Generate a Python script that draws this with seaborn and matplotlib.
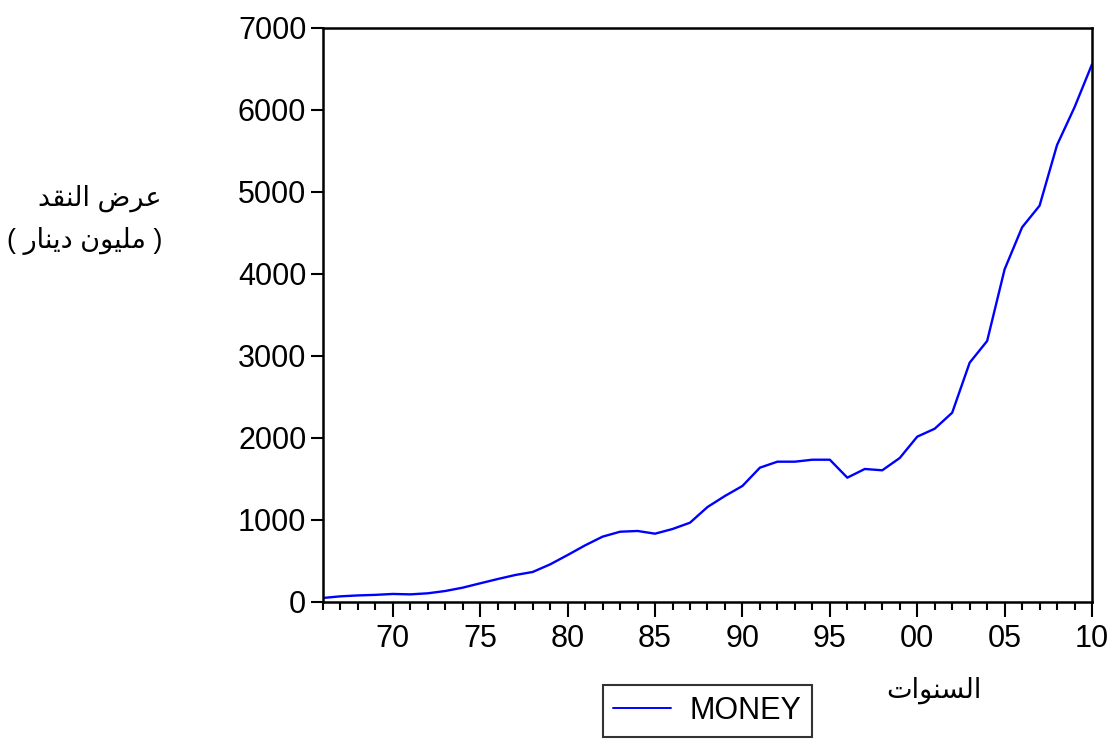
import matplotlib
matplotlib.use("Agg")
import matplotlib.pyplot as plt
from matplotlib.ticker import MultipleLocator, FuncFormatter
from matplotlib.lines import Line2D
import seaborn as sns
import pandas as pd

# Annual money supply (million dinars)
years = list(range(1966, 2011))
money = [49, 69, 80, 87, 98, 93, 106, 134, 175, 228,
         280, 329, 366, 459, 573, 691, 797, 857, 866, 833,
         890, 967, 1158, 1293, 1415, 1638, 1711, 1711, 1735, 1735,
         1516, 1622, 1606, 1756, 2016, 2113, 2308, 2918, 3183, 4057,
         4569, 4833, 5573, 6033, 6557]
y_ticks = [0, 1000, 2000, 3000, 4000, 5000, 6000, 7000]
series_name = "MONEY"
y_title_1 = "عرض النقد"
y_title_2 = "مليون دينار"
x_title = "السنوات"

# --- minimal Arabic shaping (presentation forms) + visual ordering ---
DUAL = {
    "ت": (0xFE95, 0xFE96, 0xFE97, 0xFE98),
    "س": (0xFEB1, 0xFEB2, 0xFEB3, 0xFEB4),
    "ض": (0xFEBD, 0xFEBE, 0xFEBF, 0xFEC0),
    "ع": (0xFEC9, 0xFECA, 0xFECB, 0xFECC),
    "ق": (0xFED5, 0xFED6, 0xFED7, 0xFED8),
    "ل": (0xFEDD, 0xFEDE, 0xFEDF, 0xFEE0),
    "م": (0xFEE1, 0xFEE2, 0xFEE3, 0xFEE4),
    "ن": (0xFEE5, 0xFEE6, 0xFEE7, 0xFEE8),
    "ي": (0xFEF1, 0xFEF2, 0xFEF3, 0xFEF4),
}
RIGHT = {
    "ا": (0xFE8D, 0xFE8E),
    "د": (0xFEA9, 0xFEAA),
    "ر": (0xFEAD, 0xFEAE),
    "و": (0xFEED, 0xFEEE),
}


def shape(text):
    out = []
    n = len(text)
    for i, ch in enumerate(text):
        if ch not in DUAL and ch not in RIGHT:
            out.append(ch)
            continue
        prev = i > 0 and text[i - 1] in DUAL
        nxt = ch in DUAL and i + 1 < n and (text[i + 1] in DUAL or text[i + 1] in RIGHT)
        if ch in RIGHT:
            out.append(chr(RIGHT[ch][1] if prev else RIGHT[ch][0]))
        else:
            f = DUAL[ch]
            if prev and nxt:
                out.append(chr(f[3]))
            elif prev:
                out.append(chr(f[1]))
            elif nxt:
                out.append(chr(f[2]))
            else:
                out.append(chr(f[0]))
    return "".join(reversed(out))


sns.set_style("white")
plt.rcParams["font.family"] = ["Liberation Sans", "DejaVu Sans"]
plt.rcParams["text.color"] = "black"
plt.rcParams["xtick.color"] = "black"
plt.rcParams["ytick.color"] = "black"
plt.rcParams["xtick.labelcolor"] = "black"
plt.rcParams["ytick.labelcolor"] = "black"

df = pd.DataFrame({"year": years, "value": money})

fig = plt.figure(figsize=(11.16, 7.4), dpi=100)
ax = fig.add_axes([0.2894, 0.1865, 0.6891, 0.7757])

sns.lineplot(data=df, x="year", y="value", ax=ax, color="#0000FF",
             linewidth=1.7, label=series_name, legend=False)

ax.set_xlim(years[0], years[-1])
ax.set_ylim(y_ticks[0], y_ticks[-1])
ax.set_yticks(y_ticks)
ax.xaxis.set_major_locator(MultipleLocator(5))
ax.xaxis.set_minor_locator(MultipleLocator(1))
ax.xaxis.set_major_formatter(FuncFormatter(lambda v, p: f"{int(round(v)) % 100:02d}"))

for s in ax.spines.values():
    s.set_visible(True)
    s.set_color("black")
    s.set_linewidth(1.8)

ax.tick_params(axis="y", which="major", direction="out", length=9, width=1.5,
               labelsize=22, pad=3, left=True, right=False)
ax.tick_params(axis="x", which="major", direction="out", length=11, width=1.5,
               labelsize=22, pad=5, bottom=True, top=False)
ax.tick_params(axis="x", which="minor", direction="out", length=6, width=1.5,
               bottom=True, top=False)
ax.set_xlabel("")
ax.set_ylabel("")

fam = ["Liberation Sans", "DejaVu Sans"]
fig.text(100 / 1116, 1 - 198 / 740, shape(y_title_1), ha="center", va="center",
         fontsize=19.5, family=fam)
fig.text(85 / 1116, 1 - 241 / 740, "( " + shape(y_title_2) + " )", ha="center",
         va="center", fontsize=19.5, family=fam)
fig.text(934 / 1116, 1 - 690 / 740, shape(x_title), ha="center", va="center",
         fontsize=19.5, family=fam)

handle = Line2D([], [], color="#0000FF", linewidth=1.4)
leg = fig.legend([handle], [series_name], loc="center",
                 bbox_to_anchor=(707.5 / 1116, 1 - 711 / 740), fontsize=22,
                 frameon=True, fancybox=False, handlelength=1.9,
                 handletextpad=0.6, borderpad=0.35, borderaxespad=0)
leg.get_frame().set_edgecolor("black")
leg.get_frame().set_linewidth(1.5)

fig.savefig("out.png", dpi=100, facecolor="white")
